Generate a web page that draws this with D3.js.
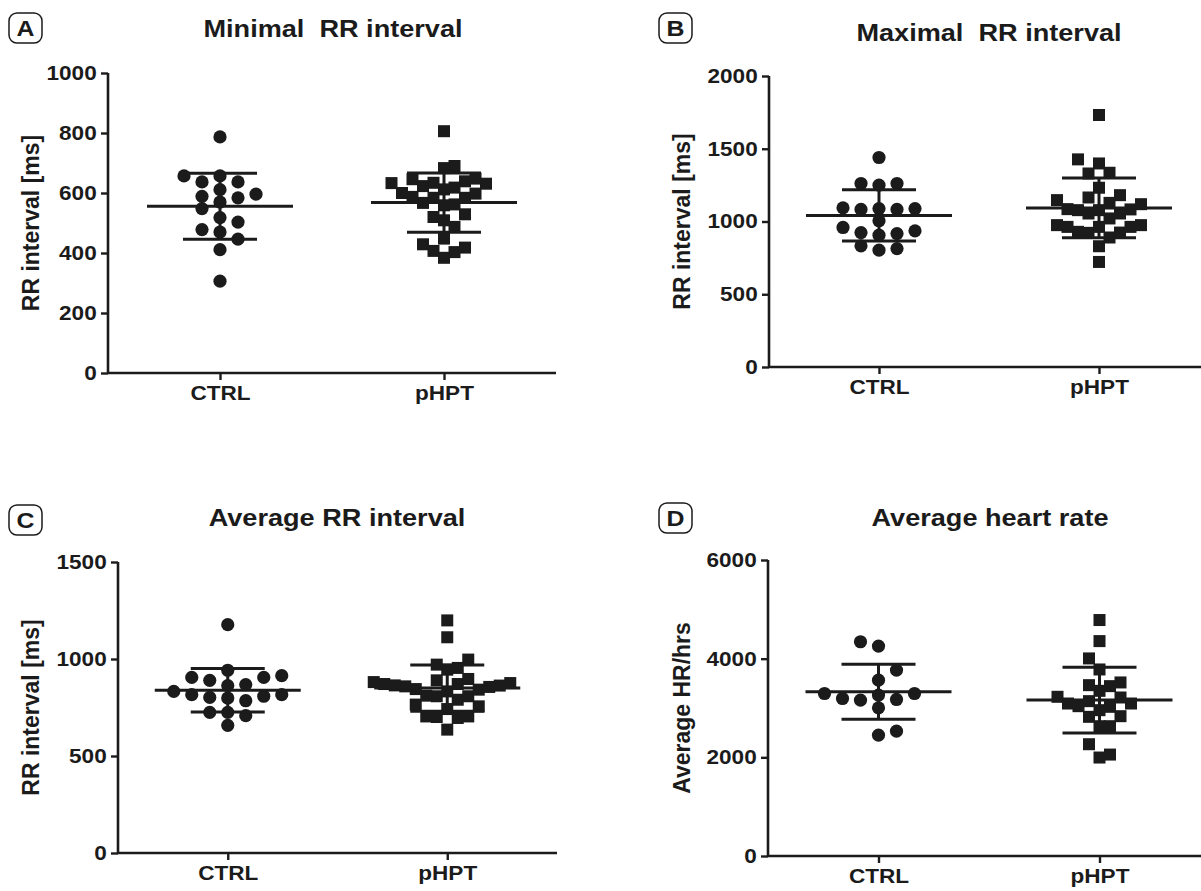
<!DOCTYPE html>
<html>
<head>
<meta charset="utf-8">
<script src="https://cdn.jsdelivr.net/npm/d3@7"></script>
<style>
  html, body { margin: 0; padding: 0; background: #fff; }
  svg { display: block; font-family: "Liberation Sans", Arial, sans-serif; }
</style>
</head>
<body>
<svg id="fig" width="1201" height="891"></svg>
<script>
// --- values (one array per group) ---
const groups = ["CTRL", "pHPT"];

const minRRCtrl = [787, 657, 657, 637, 637, 611, 596, 589, 584, 570, 548, 518, 503, 478, 470, 446, 411, 306];
const minRRPhpt = [806, 690, 683, 648, 646, 639, 634, 633, 631, 623, 618, 612, 600, 598, 587, 584, 584,
                   567, 562, 559, 529, 520, 509, 487, 448, 429, 418, 407, 403, 384];

const maxRRCtrl = [1440, 1261, 1261, 1250, 1094, 1089, 1089, 1083, 1083, 1005, 959, 936, 924, 917, 906, 833, 814, 803];
const maxRRPhpt = [1732, 1427, 1399, 1335, 1330, 1232, 1181, 1165, 1147, 1128, 1119, 1085, 1083, 1078, 1078,
                   1055, 1055, 1021, 975, 975, 963, 963, 963, 929, 924, 922, 890, 830, 722];

const avgRRCtrl = [1177, 942, 914, 905, 905, 890, 868, 863, 833, 816, 816, 808, 802, 799, 785, 725, 725, 708, 658];
const avgRRPhpt = [1199, 1112, 997, 971, 954, 945, 897, 890, 881, 876, 871, 871, 864, 863, 859, 856, 845, 842, 833,
                   811, 808, 808, 790, 765, 756, 742, 704, 704, 701, 696, 636];

const hrCtrl = [4343, 4255, 3768, 3565, 3294, 3294, 3261, 3193, 3173, 3159, 3003, 2530, 2449];
const hrPhpt = [4783, 4356, 4005, 3781, 3518, 3463, 3443, 3348, 3227, 3213, 3139, 3091, 3091, 3037, 3024,
                2956, 2834, 2821, 2631, 2631, 2266, 2056, 1996];

const minTicks = [0, 200, 400, 600, 800, 1000];
const maxTicks = [0, 500, 1000, 1500, 2000];
const avgTicks = [0, 500, 1000, 1500];
const hrTicks  = [0, 2000, 4000, 6000];

const titles = ["Minimal  RR interval", "Maximal  RR interval", "Average RR interval", "Average heart rate"];
const yLabels = ["RR interval [ms]", "RR interval [ms]", "RR interval [ms]", "Average HR/hrs"];
const letters = ["A", "B", "C", "D"];

// layout of each panel (pixels)
const panels = [
  { data: [minRRCtrl, minRRPhpt], ticks: minTicks, x0: 108, x1: 556, y0: 73,  y1: 373, tx: 333, ty: 37,  lx: 31,  bx: 9,   by: 13 },
  { data: [maxRRCtrl, maxRRPhpt], ticks: maxTicks, x0: 769, x1: 1209, y0: 76, y1: 367, tx: 989, ty: 41,  lx: 682, bx: 659, by: 13 },
  { data: [avgRRCtrl, avgRRPhpt], ticks: avgTicks, x0: 118, x1: 557, y0: 562, y1: 853, tx: 337, ty: 526, lx: 31,  bx: 9,   by: 505 },
  { data: [hrCtrl, hrPhpt],       ticks: hrTicks,  x0: 768, x1: 1210, y0: 560, y1: 856, tx: 990, ty: 526, lx: 682, bx: 659, by: 503 }
];

const ink = "#1b1b1b";
const stretch = 1.13;   // the source figure is a little wider than tall in its lettering
const svg = d3.select("#fig");

// Prism-like scatter: ascending values, each placed nearest the centre line without
// sharing a (w x h) box with one already placed -> rows fan out into a V
function swarm(values, y, w, h, step) {
  const placed = [];
  values.slice().sort(d3.ascending).forEach(v => {
    const py = y(v);
    const free = dx => placed.every(p => Math.abs(p.dx - dx) >= w - 0.01 || Math.abs(p.y - py) >= h);
    let dx = null;
    for (let k = 0; dx === null; k++) {
      if (k === 0) { if (free(0)) dx = 0; continue; }
      const right = placed.filter(p => p.dx > 0).length, left = placed.filter(p => p.dx < 0).length;
      const order = right <= left ? [k * step, -k * step] : [-k * step, k * step];
      for (const c of order) if (dx === null && free(c)) dx = c;
    }
    placed.push({ v, y: py, dx });
  });
  return placed;
}

panels.forEach((p, i) => {
  const g = svg.append("g");
  const x = d3.scalePoint().domain(groups).range([p.x0, p.x1]).padding(0.5);
  const y = d3.scaleLinear().domain([0, d3.max(p.ticks)]).range([p.y1, p.y0]);

  // letter box + title
  g.append("rect").attr("x", p.bx).attr("y", p.by).attr("width", 33).attr("height", 30).attr("rx", 8)
    .attr("fill", "none").attr("stroke", ink).attr("stroke-width", 1.5);
  g.append("text").attr("transform", `translate(${p.bx + 16.5},${p.by + 23}) scale(${stretch},1)`)
    .attr("text-anchor", "middle").attr("font-size", 22).attr("font-weight", "bold").attr("fill", ink).text(letters[i]);
  g.append("text").attr("transform", `translate(${p.tx},${p.ty}) scale(${stretch},1)`).attr("text-anchor", "middle")
    .style("white-space", "pre").attr("font-size", 24).attr("font-weight", "bold").attr("fill", ink).text(titles[i]);

  // axes
  const yAxis = g.append("g").attr("transform", `translate(${p.x0},0)`)
    .call(d3.axisLeft(y).tickValues(p.ticks).tickSize(7).tickPadding(3).tickFormat(d3.format("d")));
  const xAxis = g.append("g").attr("transform", `translate(0,${p.y1})`)
    .call(d3.axisBottom(x).tickSize(7).tickPadding(6));
  [yAxis, xAxis].forEach(a => {
    a.select(".domain").attr("stroke", ink).attr("stroke-width", 2.6);
    a.selectAll(".tick line").attr("stroke", ink).attr("stroke-width", 2.4);
    a.selectAll(".tick text").attr("fill", ink).attr("font-size", 20).attr("font-weight", "bold")
      .attr("font-family", "Liberation Sans, Arial, sans-serif").attr("transform", `scale(${stretch},1)`);
  });
  xAxis.select(".domain").attr("d", `M${p.x0},0H${p.x1}`);
  yAxis.select(".domain").attr("d", `M0,${p.y0}V${p.y1}`);

  // y label
  g.append("text").attr("transform", `translate(${p.lx},${(p.y0 + p.y1) / 2}) rotate(-90)`)
    .attr("text-anchor", "middle").attr("dy", "0.36em").attr("font-size", 23).attr("font-weight", "bold")
    .attr("fill", ink).text(yLabels[i]);

  // points
  groups.forEach((grp, j) => {
    const cx = x(grp);
    const pts = j === 0 ? swarm(p.data[j], y, 13, 12, 9) : swarm(p.data[j], y, 10.5, 15, 10.5);
    if (j === 0) {
      g.append("g").selectAll("circle").data(pts).join("circle")
        .attr("cx", d => cx + d.dx).attr("cy", d => d.y).attr("r", 6.6).attr("fill", ink);
    } else {
      g.append("g").selectAll("rect").data(pts).join("rect")
        .attr("x", d => cx + d.dx - 6).attr("y", d => d.y - 6).attr("width", 12).attr("height", 12).attr("fill", ink);
    }

    // mean ± SD
    const m = d3.mean(p.data[j]), sd = d3.deviation(p.data[j]);
    const bars = g.append("g").attr("stroke", ink).attr("stroke-width", 3).attr("fill", "none");
    bars.append("line").attr("x1", cx - 73).attr("x2", cx + 73).attr("y1", y(m)).attr("y2", y(m));
    bars.append("line").attr("x1", cx).attr("x2", cx).attr("y1", y(m - sd)).attr("y2", y(m + sd));
    [m - sd, m + sd].forEach(v => bars.append("line")
      .attr("x1", cx - 37).attr("x2", cx + 37).attr("y1", y(v)).attr("y2", y(v)));
  });
});
</script>
</body>
</html>
